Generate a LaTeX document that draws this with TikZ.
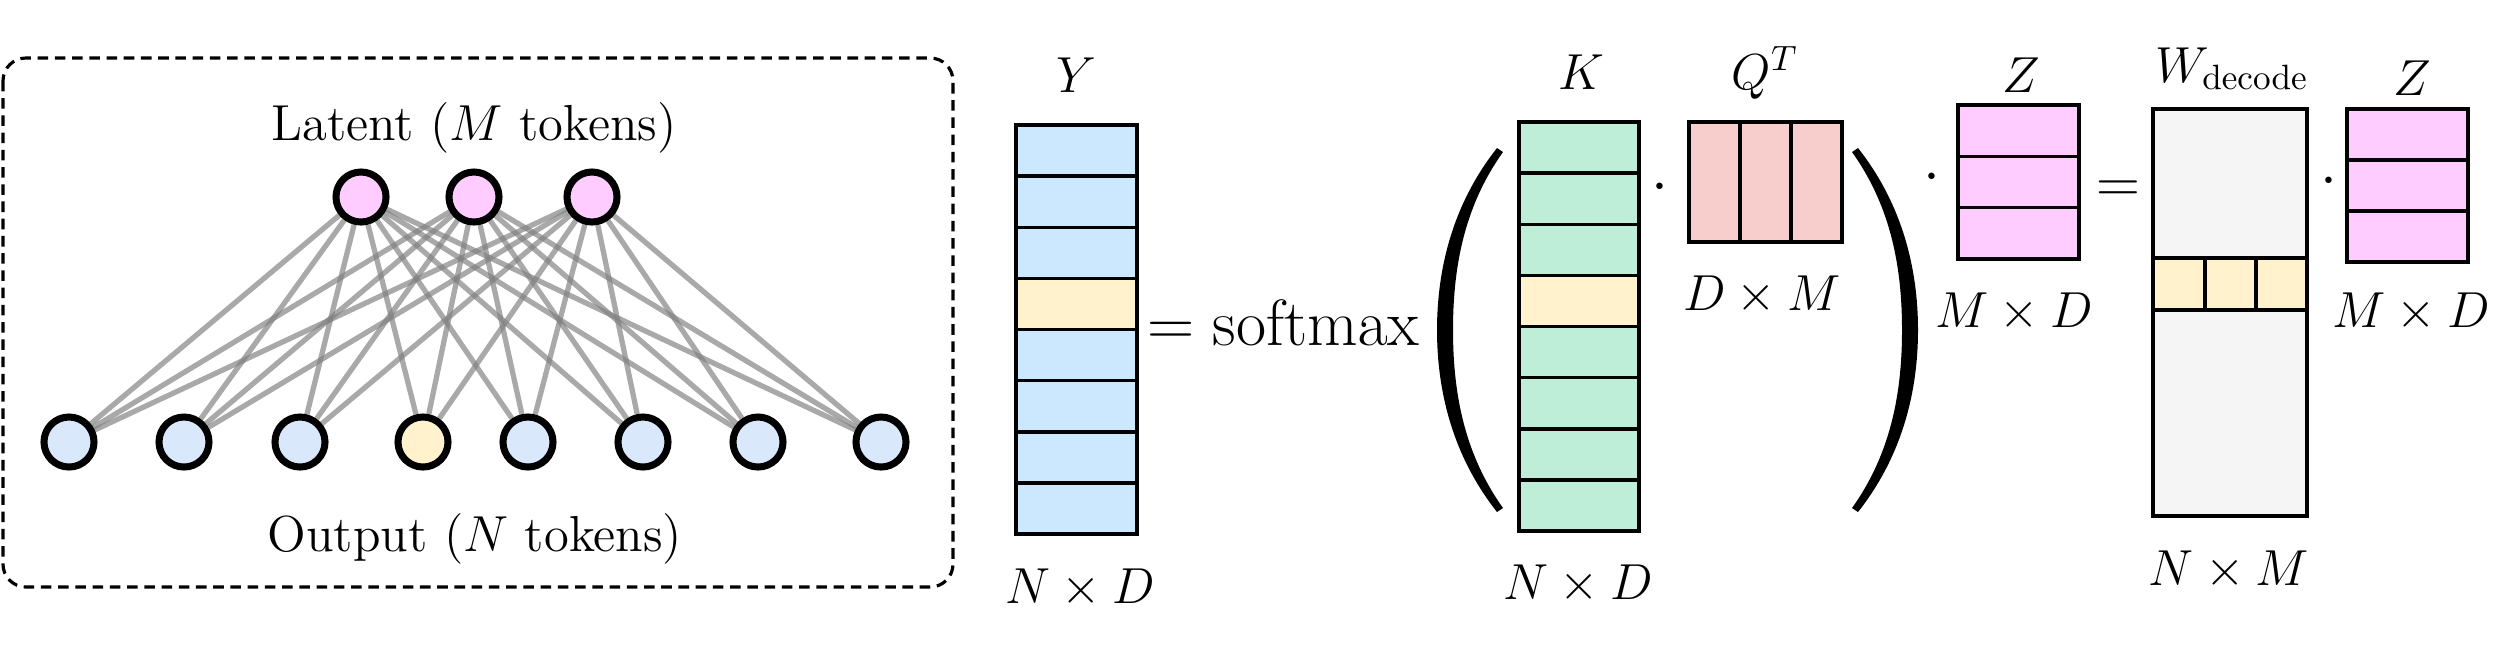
\RequirePackage{fix-cm}
\documentclass[tikz,border=0pt]{standalone}
\usetikzlibrary{backgrounds}
\definecolor{latpink}{HTML}{FFCCFF}
\definecolor{outblue}{HTML}{DAE8FC}
\definecolor{tokyellow}{HTML}{FFF2CC}
\definecolor{yblue}{HTML}{CCE8FF}
\definecolor{kgreen}{HTML}{BFEED8}
\definecolor{qred}{HTML}{F8CECC}
\definecolor{wgray}{HTML}{F5F5F5}
\definecolor{edgegray}{HTML}{808080}
\begin{document}
\begin{tikzpicture}[x=0.01cm,y=-0.01cm,
  tok/.style={circle,draw=black,line width=2pt,minimum size=0.5cm,inner sep=0pt},
  conn/.style={draw=edgegray,line width=1.5pt,opacity=0.68},
  mat/.style={draw=black,line width=1pt},
  lbl/.style={font=\fontsize{14.4}{17}\selectfont,inner sep=0pt,anchor=base},
  eqtext/.style={font=\fontsize{17.28}{20}\selectfont,inner sep=0pt,anchor=base},
  dashbox/.style={draw=black,line width=0.9pt,dash pattern=on 3pt off 1.9pt,rounded corners=6.5pt},
]
\useasboundingbox (0,0) rectangle (2500,656);

% ---- left panel ----
\draw[dashbox] (3,58) rectangle (953,587);
\node[lbl] (latentlbl) at (474,140) {Latent ($M$ tokens)};
\node[lbl] (outputlbl) at (475,551) {Output ($N$ tokens)};

\node[tok,fill=latpink] (l1) at (361,197) {};
\node[tok,fill=latpink] (l2) at (474,197) {};
\node[tok,fill=latpink] (l3) at (592,197) {};

\node[tok,fill=outblue] (o1) at (69,442) {};
\node[tok,fill=outblue] (o2) at (184,442) {};
\node[tok,fill=outblue] (o3) at (300,442) {};
\node[tok,fill=tokyellow] (o4) at (423,442) {};
\node[tok,fill=outblue] (o5) at (528,442) {};
\node[tok,fill=outblue] (o6) at (643,442) {};
\node[tok,fill=outblue] (o7) at (758,442) {};
\node[tok,fill=outblue] (o8) at (881,442) {};

\begin{scope}[on background layer]
\foreach \i in {1,2,3}{
  \foreach \j in {1,...,8}{
    \draw[conn] (l\i) -- (o\j);
  }
}
\end{scope}

% ---- Y ----
\fill[yblue] (1016,125) rectangle (1137,534);
\fill[tokyellow] (1016,278.375) rectangle (1137,329.5);
\foreach \k in {1,...,7} \draw[mat] (1016,{125+\k*51.125}) -- (1137,{125+\k*51.125});
\draw[mat] (1016,125) rectangle (1137,534);
\node[lbl] (ylbl) at (1076,92) {$Y$};
\node[lbl] (ydim) at (1080,603) {$N\times D$};

\node[eqtext,anchor=base west,font=\fontsize{18.6}{21}\selectfont] (softmax) at (1147,345) {$=\mathrm{softmax}$};

% ---- parentheses ----
\fill (1497,148) .. controls (1452,205) and (1437,270) .. (1437,330)
  .. controls (1437,390) and (1452,455) .. (1497,512) -- (1503,508)
  .. controls (1463,452) and (1453,390) .. (1453,330)
  .. controls (1453,270) and (1463,208) .. (1503,152) -- cycle;
\fill (1858,148) .. controls (1903,205) and (1918,270) .. (1918,330)
  .. controls (1918,390) and (1903,455) .. (1858,512) -- (1852,508)
  .. controls (1892,452) and (1902,390) .. (1902,330)
  .. controls (1902,270) and (1892,208) .. (1852,152) -- cycle;

% ---- K ----
\fill[kgreen] (1519,122) rectangle (1639,531);
\fill[tokyellow] (1519,275.375) rectangle (1639,326.5);
\foreach \k in {1,...,7} \draw[mat] (1519,{122+\k*51.125}) -- (1639,{122+\k*51.125});
\draw[mat] (1519,122) rectangle (1639,531);
\node[lbl] (klbl) at (1581,89) {$K$};
\node[lbl] (kdim) at (1578,599) {$N\times D$};

\node[eqtext] (dot1) at (1660,201) {$\cdot$};

% ---- Q^T ----
\fill[qred] (1689,122) rectangle (1842,242);
\draw[mat] (1740,122) -- (1740,242);
\draw[mat] (1791,122) -- (1791,242);
\draw[mat] (1689,122) rectangle (1842,242);
\node[lbl] (qlbl) at (1765,89) {$Q^T$};
\node[lbl] (qdim) at (1762,310) {$D\times M$};

\node[eqtext] (dot2) at (1932,191) {$\cdot$};

% ---- Z ----
\fill[latpink] (1958,105) rectangle (2079,259);
\draw[mat] (1958,156.3) -- (2079,156.3);
\draw[mat] (1958,207.6) -- (2079,207.6);
\draw[mat] (1958,105) rectangle (2079,259);
\node[lbl] (zlbl) at (2021,92) {$Z$};
\node[lbl] (zdim) at (2014,327) {$M\times D$};

\node[eqtext] (eq2) at (2118,202) {$=$};

% ---- W_decode ----
\fill[wgray] (2153,109) rectangle (2307,516);
\fill[tokyellow] (2153,258) rectangle (2307,310);
\draw[mat] (2153,258) -- (2307,258);
\draw[mat] (2153,310) -- (2307,310);
\draw[mat] (2205,258) -- (2205,310);
\draw[mat] (2256,258) -- (2256,310);
\draw[mat] (2153,109) rectangle (2307,516);
\node[lbl] (wlbl) at (2232,82) {$W_{\mathrm{decode}}$};
\node[lbl] (wdim) at (2229,585) {$N\times M$};

\node[eqtext] (dot3) at (2329,195) {$\cdot$};

% ---- Z (right) ----
\fill[latpink] (2347,109) rectangle (2468,262);
\draw[mat] (2347,160) -- (2468,160);
\draw[mat] (2347,211) -- (2468,211);
\draw[mat] (2347,109) rectangle (2468,262);
\node[lbl] (z2lbl) at (2412,95) {$Z$};
\node[lbl] (z2dim) at (2411,327) {$M\times D$};
\end{tikzpicture}
\end{document}
